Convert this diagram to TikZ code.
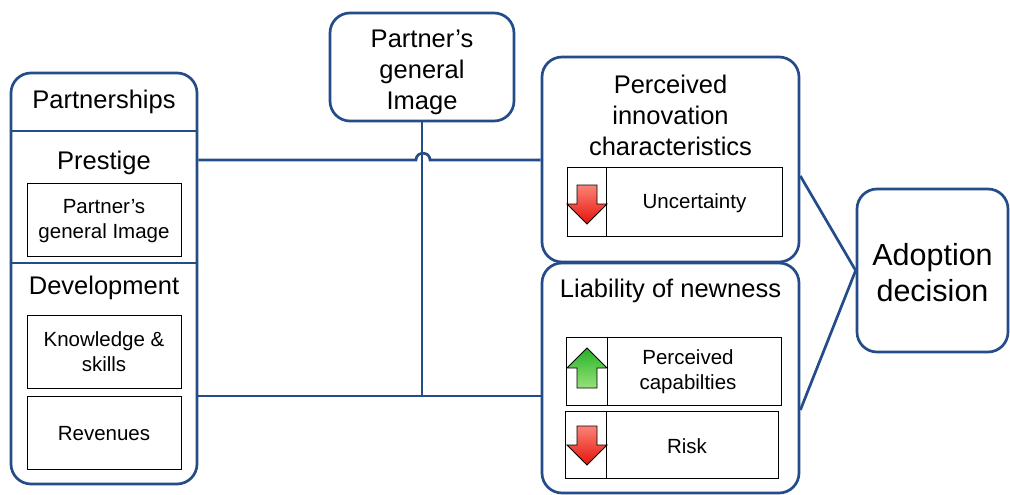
\documentclass[tikz,border=0pt]{standalone}
\usepackage{fontspec}
\setmainfont{Liberation Sans}
\definecolor{dblue}{RGB}{36,76,136}
\definecolor{redtop}{RGB}{252,130,118}
\definecolor{redbot}{RGB}{228,20,10}
\definecolor{grntop}{RGB}{38,178,38}
\definecolor{grnbot}{RGB}{150,226,120}
\tikzset{
  blueline/.style={draw=dblue, line width=2.7pt},
  bigbox/.style={blueline, rounded corners=20pt, fill=white, inner sep=0pt},
  itembox/.style={draw=black, line width=0.9pt, fill=white, inner sep=0pt},
  txtbase/.style={inner sep=0pt, align=center, yshift=-2pt},
  bigtxt/.style={txtbase, font=\fontsize{25.5}{31}\selectfont},
  smalltxt/.style={txtbase, font=\fontsize{20.5}{25}\selectfont},
  hugetxt/.style={txtbase, font=\fontsize{30.5}{36}\selectfont},
  arrowfill/.style={draw=black, line width=0.9pt, line join=miter},
}
\newcommand\mydownarrow[2]{% #1 x centre, #2 y of shaft top
  \shade[arrowfill, top color=redtop, bottom color=redbot]
    (#1-10,#2) -- (#1+10,#2) -- (#1+10,#2+19) -- (#1+20,#2+19) -- (#1,#2+39)
    -- (#1-20,#2+19) -- (#1-10,#2+19) -- cycle;}
\newcommand\myuparrow[2]{% #1 x centre, #2 y of tip
  \shade[arrowfill, top color=grntop, bottom color=grnbot]
    (#1,#2) -- (#1+20,#2+20) -- (#1+10,#2+20) -- (#1+10,#2+40) -- (#1-10,#2+40)
    -- (#1-10,#2+20) -- (#1-20,#2+20) -- cycle;}
\begin{document}
\begin{tikzpicture}[x=1pt,y=-1pt]
\useasboundingbox (0,0) rectangle (1010,495);

% ---------- left: partnerships ----------
\node[bigbox, minimum width=186pt, minimum height=411pt] (part) at (104,278.5) {};
\draw[blueline] (part.west |- 0,131) -- (part.east |- 0,131);
\draw[blueline] (part.west |- 0,263) -- (part.east |- 0,263);
\node[bigtxt] (tpart) at (104,100) {Partnerships};
\node[bigtxt] (tprest) at (104,161) {Prestige};
\node[bigtxt] (tdev) at (104,286) {Development};
\node[itembox, minimum width=154pt, minimum height=73pt] (pimg) at (104,219.5) {};
\node[smalltxt] (tpimg) at (104,219) {Partner’s\\general Image};
\node[itembox, minimum width=154pt, minimum height=73pt] (know) at (104,351.5) {};
\node[smalltxt] (tknow) at (104,350) {Knowledge \&\\skills};
\node[itembox, minimum width=154pt, minimum height=73pt] (rev) at (104,432.5) {};
\node[smalltxt] (trev) at (104,432) {Revenues};

% ---------- top: partner's general image ----------
\node[bigbox, minimum width=184pt, minimum height=108pt] (top) at (422,67) {};
\node[bigtxt] (ttop) at (422,70) {Partner’s\\general\\Image};

% ---------- right: perceived innovation characteristics ----------
\node[bigbox, minimum width=257pt, minimum height=205pt] (perc) at (670.5,159.5) {};
\node[bigtxt] (tperc) at (670.5,113) {Perceived\\innovation\\characteristics};
\node[itembox, minimum width=215pt, minimum height=69pt] (unc) at (674.5,201.5) {};
\draw[black, line width=0.9pt] ([xshift=40pt]unc.north west) -- ([xshift=40pt]unc.south west);
\node[smalltxt] (tunc) at (694.5,201) {Uncertainty};
\mydownarrow{587}{185}

% ---------- right: liability of newness ----------
\node[bigbox, minimum width=257pt, minimum height=230pt] (liab) at (670.5,378) {};
\node[bigtxt] (tliab) at (670.5,289) {Liability of newness};
\node[itembox, minimum width=215pt, minimum height=68pt] (capb) at (673.5,371) {};
\draw[black, line width=0.9pt] ([xshift=42pt]capb.north west) -- ([xshift=42pt]capb.south west);
\node[smalltxt] (tcap) at (688,370) {Perceived\\capabilties};
\myuparrow{587}{348}
\node[itembox, minimum width=213pt, minimum height=67pt] (risk) at (671.5,444.5) {};
\draw[black, line width=0.9pt] ([xshift=42pt]risk.north west) -- ([xshift=42pt]risk.south west);
\node[smalltxt] (trisk) at (687,444) {Risk};
\mydownarrow{587}{426}

% ---------- adoption decision ----------
\node[bigbox, minimum width=151pt, minimum height=163pt] (adopt) at (932.5,270.5) {};
\node[hugetxt] (tadopt) at (932.5,271) {Adoption\\decision};

% ---------- connectors ----------
\draw[blueline] (part.east |- 0,160) -- (416,160)
  .. controls (416,151) and (430,151) .. (430,160) -- (perc.west |- 0,160);
\draw[blueline] (part.east |- 0,396) -- (liab.west |- 0,396);
\draw[blueline] (top.south) -- (top.south |- 0,396);
\draw[blueline] (perc.east |- 0,176) -- (adopt.west);
\draw[blueline] (liab.east |- 0,410) -- (adopt.west);
\end{tikzpicture}
\end{document}
